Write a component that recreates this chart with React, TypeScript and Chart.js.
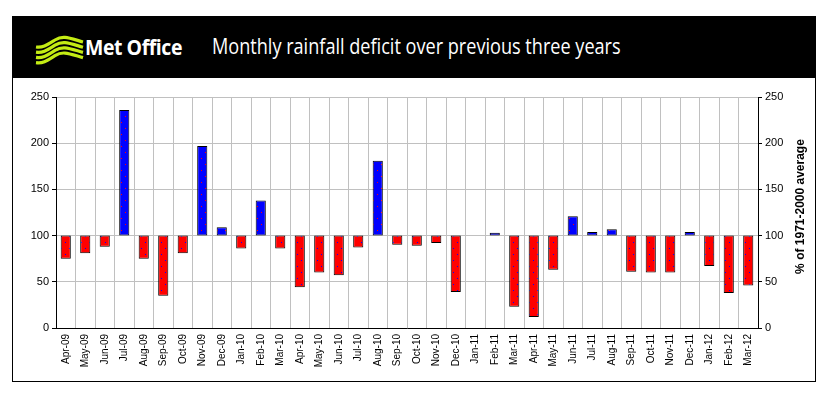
import React, { useEffect, useRef } from "react";
import { Chart, registerables } from "chart.js";

Chart.register(...registerables);

const MONTHS = [
  "Apr-09", "May-09", "Jun-09", "Jul-09", "Aug-09", "Sep-09", "Oct-09", "Nov-09", "Dec-09",
  "Jan-10", "Feb-10", "Mar-10", "Apr-10", "May-10", "Jun-10", "Jul-10", "Aug-10", "Sep-10",
  "Oct-10", "Nov-10", "Dec-10", "Jan-11", "Feb-11", "Mar-11", "Apr-11", "May-11", "Jun-11",
  "Jul-11", "Aug-11", "Sep-11", "Oct-11", "Nov-11", "Dec-11", "Jan-12", "Feb-12", "Mar-12",
];
const RAINFALL_PCT = [
  75, 81, 88, 236, 75, 35, 81, 197, 109,
  86, 138, 86, 44, 60, 57, 87, 181, 90,
  89, 92, 39, 100, 103, 23, 12, 63, 121,
  104, 107, 61, 60, 60, 104, 67, 38, 46,
];
const BASELINE = 100;
const Y_MIN = 0;
const Y_MAX = 250;
const Y_STEP = 50;
const CHART_TITLE = "Monthly rainfall deficit over previous three years";
const BRAND = "Met Office";
const Y_TITLE = "% of 1971-2000 average";

const RED = "#ff0000";
const BLUE = "#0000ff";
const GRID = "#c0c0c0";
const AXIS_FONT = '"Liberation Sans", Arial, sans-serif';
const LABEL_FONT = '"Liberation Sans Narrow", "Arial Narrow", "Liberation Sans", Arial, sans-serif';

function makePattern(ctx: CanvasRenderingContext2D, bg: string, dot: string) {
  const c = document.createElement("canvas");
  c.width = 8;
  c.height = 12;
  const p = c.getContext("2d")!;
  p.fillStyle = bg;
  p.fillRect(0, 0, 8, 12);
  p.fillStyle = dot;
  p.fillRect(1, 2, 1, 1);
  p.fillRect(5, 8, 1, 1);
  return ctx.createPattern(c, "repeat") || bg;
}

const rightTitlePlugin = {
  id: "rightTitle",
  afterDraw(chart: any) {
    const { ctx, chartArea } = chart;
    ctx.save();
    ctx.translate(chartArea.right + 43, (chartArea.top + chartArea.bottom) / 2 - 6);
    ctx.rotate(-Math.PI / 2);
    ctx.font = `bold 12px ${AXIS_FONT}`;
    ctx.textAlign = "center";
    ctx.textBaseline = "middle";
    ctx.fillStyle = "#000";
    ctx.fillText(Y_TITLE, 0, 0);
    ctx.restore();
  },
};

export default function App() {
  const ref = useRef<HTMLCanvasElement>(null);

  useEffect(() => {
    const canvas = ref.current!;
    const ctx = canvas.getContext("2d")!;
    const redPat = makePattern(ctx, RED, BLUE);
    const bluePat = makePattern(ctx, BLUE, RED);

    const chart = new Chart(canvas, {
      type: "bar",
      data: {
        labels: MONTHS,
        datasets: [
          {
            data: RAINFALL_PCT.map((v) => [BASELINE, v]) as any,
            backgroundColor: RAINFALL_PCT.map((v) => (v >= BASELINE ? bluePat : redPat)) as any,
            borderColor: "#000",
            borderWidth: 1,
            borderSkipped: false,
            barPercentage: 0.52,
            categoryPercentage: 1,
          },
        ],
      },
      options: {
        responsive: false,
        animation: false,
        devicePixelRatio: 1,
        layout: { padding: { top: 97, left: 0, right: 0, bottom: 0 } },
        plugins: {
          legend: { display: false },
          tooltip: { enabled: false },
          title: { display: false },
        },
        scales: {
          x: {
            offset: true,
            grid: { color: GRID, drawTicks: false, offset: true },
            border: { color: "#000", width: 1 },
            ticks: {
              autoSkip: false,
              minRotation: 90,
              maxRotation: 90,
              padding: 6,
              color: "#000",
              font: { family: LABEL_FONT, size: 10 },
            },
            afterFit(scale: any) {
              scale.height = 70;
              scale.paddingLeft = 0;
              scale.paddingRight = 0;
            },
          },
          y: {
            position: "left",
            min: Y_MIN,
            max: Y_MAX,
            ticks: { stepSize: Y_STEP, color: "#000", padding: 3, font: { family: AXIS_FONT, size: 11 } },
            grid: { color: GRID, tickColor: "#000", tickLength: 4 },
            border: { color: "#000", width: 1 },
            afterFit(scale: any) {
              scale.width = 56;
              scale.paddingTop = 0;
              scale.paddingBottom = 0;
            },
          },
          y2: {
            position: "right",
            min: Y_MIN,
            max: Y_MAX,
            ticks: { stepSize: Y_STEP, color: "#000", padding: 3, font: { family: AXIS_FONT, size: 11 } },
            grid: { drawOnChartArea: false, tickColor: "#000", tickLength: 4 },
            border: { color: "#000", width: 1 },
            afterFit(scale: any) {
              scale.width = 77;
              scale.paddingTop = 0;
              scale.paddingBottom = 0;
            },
          },
        },
      },
      plugins: [rightTitlePlugin],
    });
    return () => chart.destroy();
  }, []);

  const waves = [0, 1, 2, 3].map((i) => {
    const y = 6 + i * 5.2;
    return (
      <path
        key={i}
        d={`M 1 ${y + 6} C 8 ${y + 7}, 12 ${y + 4}, 20 ${y - 1} S 34 ${y - 3}, 48 ${y + 1}`}
        stroke="#c4ec14"
        strokeWidth={3.2}
        fill="none"
      />
    );
  });

  return (
    <div style={{ position: "fixed", left: 0, top: 0, width: 835, height: 398, background: "#fff", overflow: "hidden" }}>
      <div
        style={{
          position: "absolute",
          left: 12,
          top: 16,
          width: 804,
          height: 366,
          border: "1px solid #000",
          boxSizing: "border-box",
        }}
      />
      <div style={{ position: "absolute", left: 12, top: 16, width: 804, height: 62, background: "#000" }}>
        <svg width={50} height={30} style={{ position: "absolute", left: 23, top: 19 }}>
          {waves}
        </svg>
        <div
          style={{
            position: "absolute",
            left: 73,
            top: 15,
            color: "#fff",
            font: 'bold 22px "Open Sans", sans-serif',
            lineHeight: "30px",
            whiteSpace: "nowrap",
            transform: "scaleX(0.885)",
            transformOrigin: "left center",
            letterSpacing: "-0.5px",
          }}
        >
          {BRAND}
        </div>
        <div
          style={{
            position: "absolute",
            left: 200,
            top: 15,
            color: "#fff",
            font: '21px "Open Sans", sans-serif',
            lineHeight: "30px",
            whiteSpace: "nowrap",
            transform: "scaleX(0.862)",
            transformOrigin: "left center",
          }}
        >
          {CHART_TITLE}
        </div>
      </div>
      <canvas
        ref={ref}
        width={835}
        height={398}
        style={{ position: "absolute", left: 0, top: 0, width: 835, height: 398 }}
      />
    </div>
  );
}
